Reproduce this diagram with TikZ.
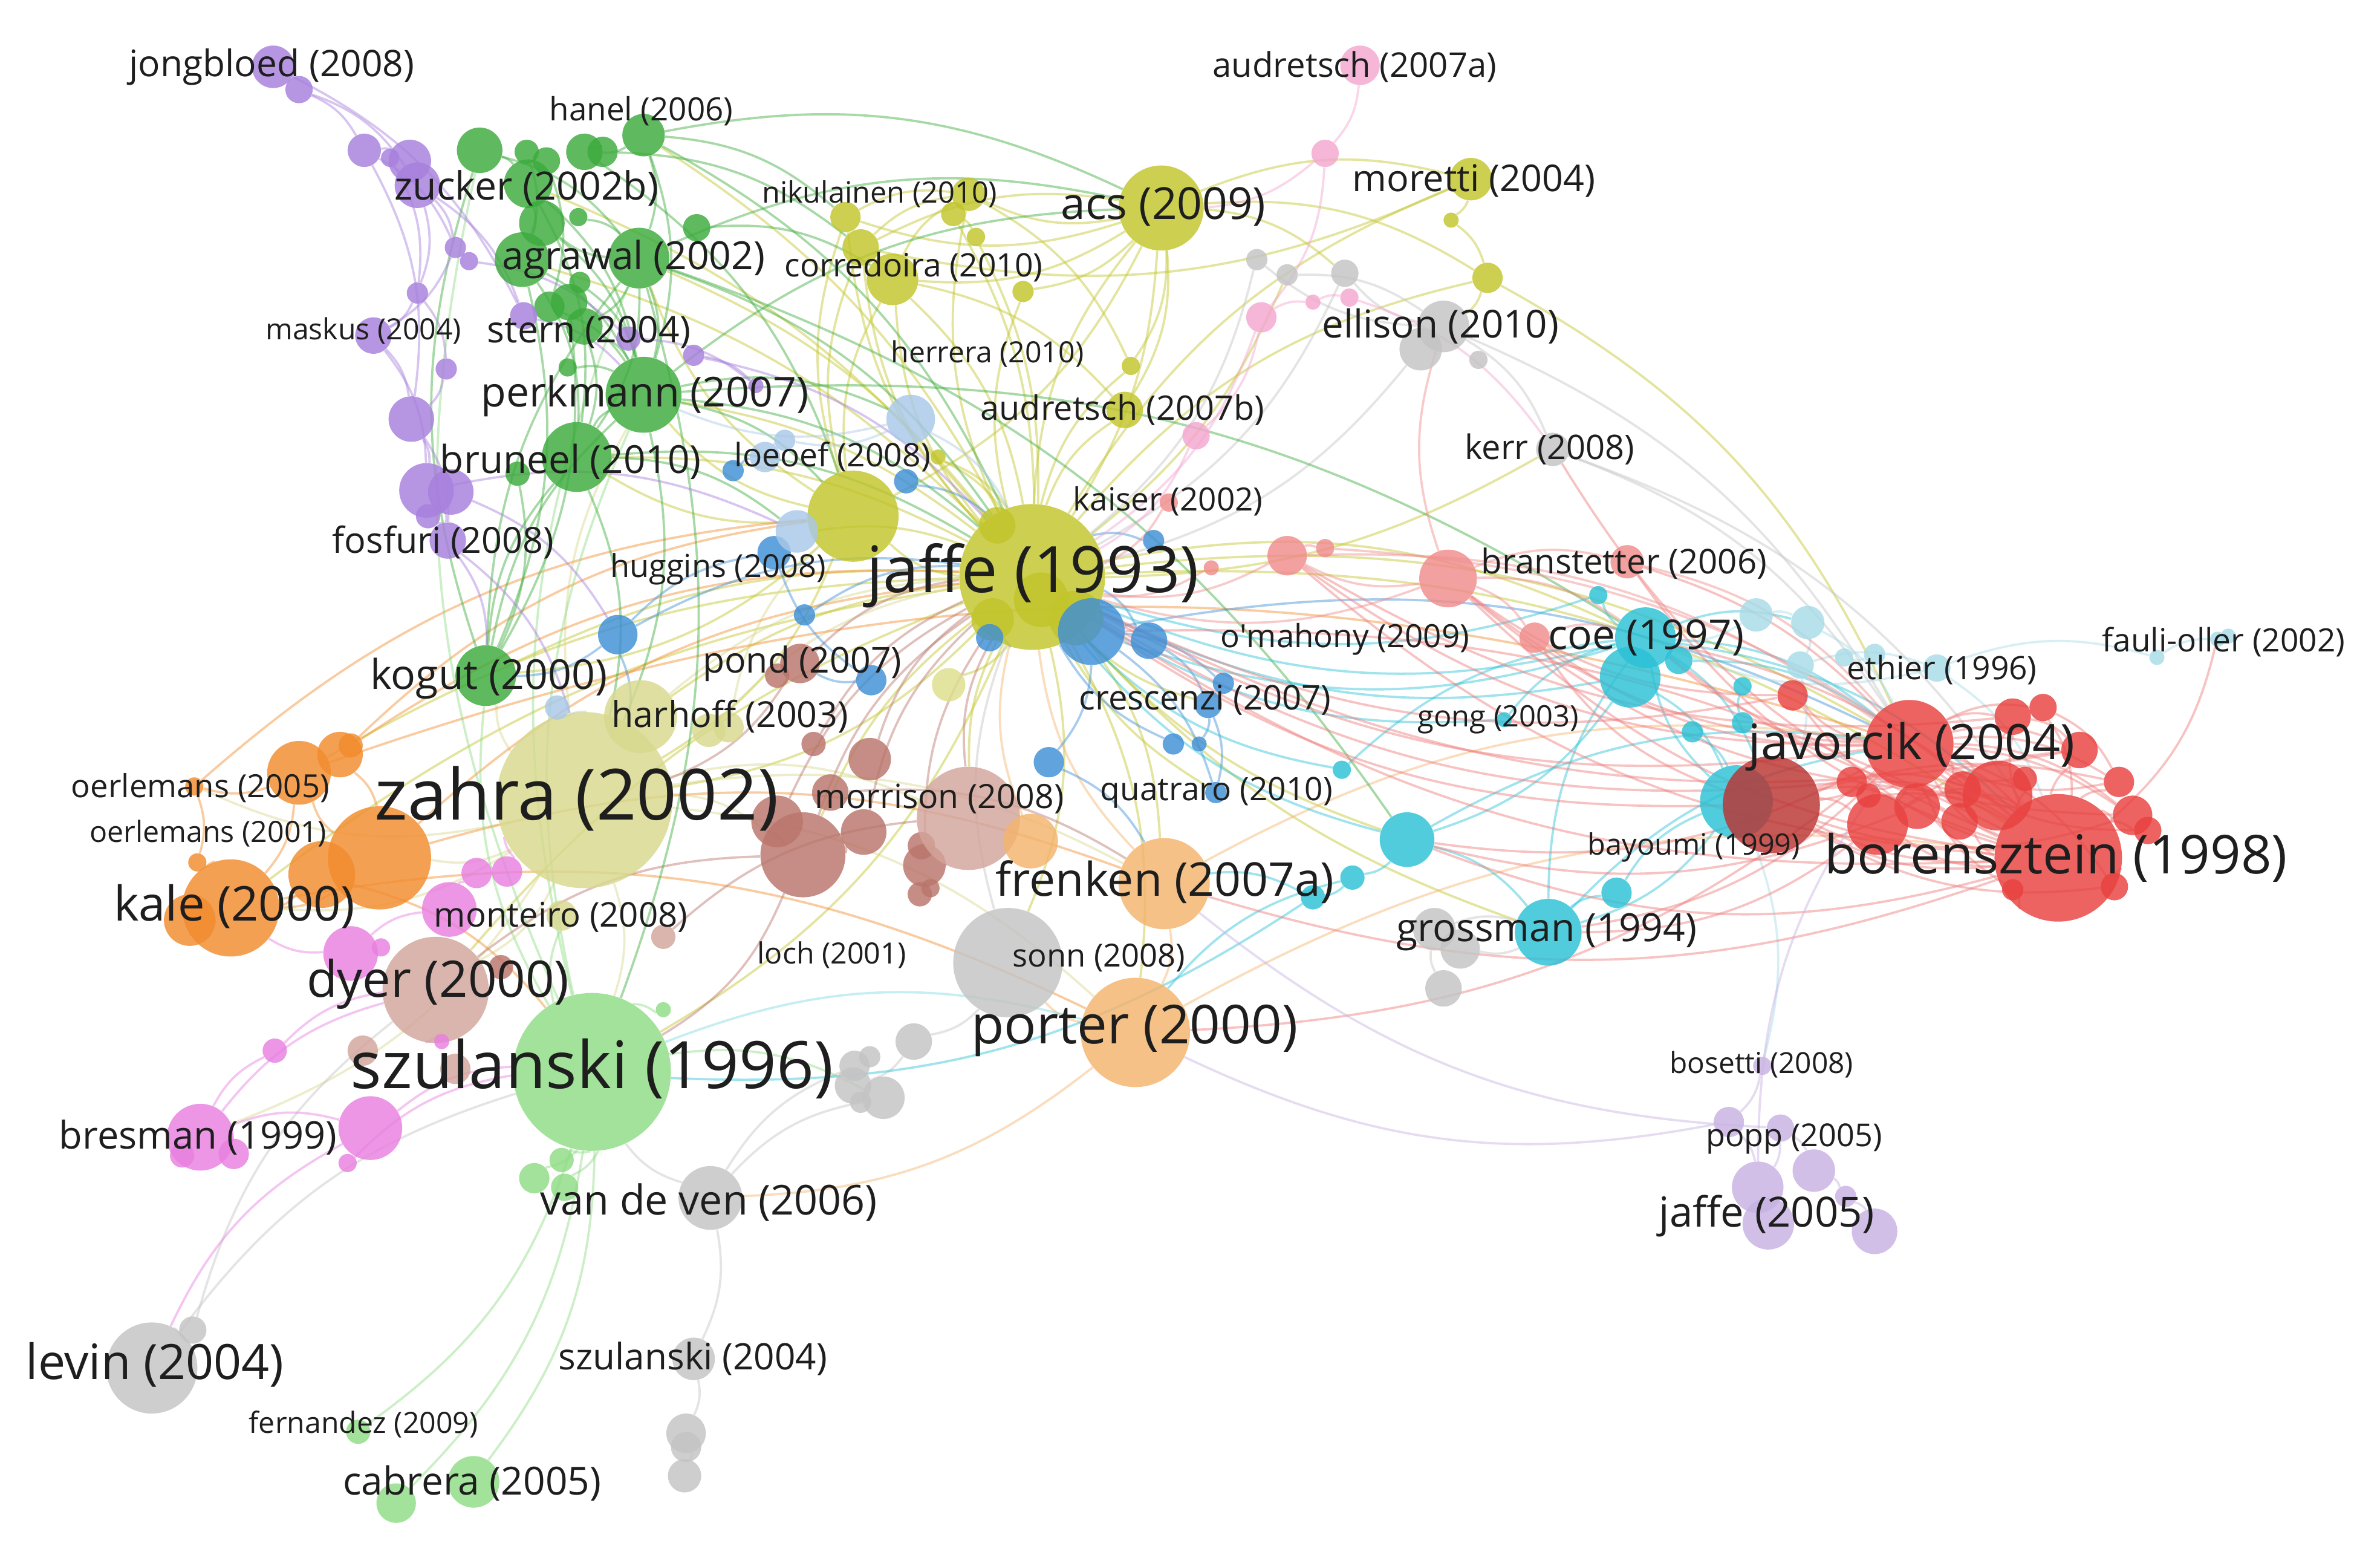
\documentclass[tikz,border=0pt]{standalone}
\usepackage{fontspec}
\setmainfont{Open Sans}
\usepackage{graphicx}
\pgfdeclarelayer{bg}\pgfdeclarelayer{fg}\pgfsetlayers{bg,main,fg}
\definecolor{cRed}{HTML}{E8413F}
\definecolor{cGreen}{HTML}{3CAB3C}
\definecolor{cBlue}{HTML}{3F8FD6}
\definecolor{cOlive}{HTML}{C2C52A}
\definecolor{cPurple}{HTML}{A780DC}
\definecolor{cCyan}{HTML}{2BC1D6}
\definecolor{cOrange}{HTML}{F28C2E}
\definecolor{cBrown}{HTML}{B9756B}
\definecolor{cMagenta}{HTML}{E87FE0}
\definecolor{cLgreen}{HTML}{8EDC84}
\definecolor{cKhaki}{HTML}{D8D98E}
\definecolor{cGray}{HTML}{C4C4C4}
\definecolor{cLblue}{HTML}{A9C8E8}
\definecolor{cPink}{HTML}{F3A6CF}
\definecolor{cLpurple}{HTML}{C7B2E2}
\definecolor{cLcyan}{HTML}{A8DCE8}
\definecolor{cSalmon}{HTML}{F08C8C}
\definecolor{cPeach}{HTML}{F4B46C}
\definecolor{cPbrown}{HTML}{D3A59C}
\definecolor{cText}{HTML}{1E1E1E}
\tikzset{
  nd/.style={circle,inner sep=0pt,draw=none,fill opacity=0.82},
  lbl/.style={inner sep=0pt,text=cText},
  e/.style={draw=#1,line width=1.5pt,draw opacity=0.45,bend left=18},
  er/.style={draw=#1,line width=1.5pt,draw opacity=0.45,bend right=14}
}
\newcommand\nd[5]{\node[nd,fill=#5,minimum size=#4*2pt] (#1) at (#2,#3) {};}
\newcommand\lab[5]{\node[lbl] (#1) at (#2,#3) {\resizebox{#4pt}{!}{#5}};}
\begin{document}
\begin{tikzpicture}[x=1pt,y=-1pt]
\begin{pgfonlayer}{bg}
\fill[white] (0,0) rectangle (1568,1020);
\end{pgfonlayer}
\useasboundingbox (0,0) rectangle (1568,1020);
% ---------- nodes ----------
% olive
\nd{J93}{680}{380}{48}{cOlive}
\nd{acs}{765}{137}{28}{cOlive}
\nd{Y1}{562}{340}{30}{cOlive}
\nd{Y2}{557}{143}{10}{cOlive}
\nd{Y3}{567}{163}{12}{cOlive}
\nd{Y4}{588}{184}{17}{cOlive}
\nd{Y5}{628}{141}{8}{cOlive}
\nd{Y6}{638}{128}{11}{cOlive}
\nd{Y7}{643}{156}{6}{cOlive}
\nd{Y8}{674}{192}{7}{cOlive}
\nd{Y9}{745}{241}{6}{cOlive}
\nd{Y10}{741}{270}{12}{cOlive}
\nd{Y11}{618}{301}{5}{cOlive}
\nd{mor}{969}{118}{14}{cOlive}
\nd{Y12}{956}{145}{5}{cOlive}
\nd{Y13}{980}{183}{10}{cOlive}
\nd{Y14}{625}{451}{11}{cOlive!55}
\nd{Y15}{657}{346}{12}{cOlive}
\nd{Y16}{686}{395}{18}{cOlive}
\nd{Y17}{709}{407}{18}{cOlive}
\nd{Y18}{654}{408}{14}{cOlive}
% khaki
\nd{zah}{385}{527}{58}{cKhaki}
\nd{har}{422}{472}{24}{cKhaki}
\nd{K1}{467}{481}{11}{cKhaki}
\nd{K2}{480}{479}{10}{cKhaki}
\nd{mon}{370}{603}{10}{cKhaki}
% green
\nd{G1}{316}{99}{15}{cGreen}
\nd{G2}{347}{100}{8}{cGreen}
\nd{G3}{360}{106}{9}{cGreen}
\nd{G4}{385}{100}{12}{cGreen}
\nd{G5}{348}{121}{16}{cGreen}
\nd{G6}{357}{147}{15}{cGreen}
\nd{G7}{381}{143}{6}{cGreen}
\nd{G8}{344}{171}{18}{cGreen}
\nd{G9}{382}{186}{7}{cGreen}
\nd{G10}{362}{202}{10}{cGreen}
\nd{G11}{375}{199}{12}{cGreen}
\nd{G12}{385}{215}{12}{cGreen}
\nd{G13}{374}{242}{6}{cGreen}
\nd{han}{424}{89}{14}{cGreen}
\nd{G14}{397}{100}{10}{cGreen}
\nd{agr}{421}{170}{20}{cGreen}
\nd{G15}{459}{150}{9}{cGreen}
\nd{per}{424}{260}{25}{cGreen}
\nd{bru}{380}{301}{23}{cGreen}
\nd{G16}{341}{312}{8}{cGreen}
\nd{kog}{320}{445}{20}{cGreen}
% purple
\nd{jon}{180}{44}{14}{cPurple}
\nd{P1}{197}{59}{9}{cPurple}
\nd{P2}{240}{99}{11}{cPurple}
\nd{P3}{270}{106}{14}{cPurple}
\nd{P4}{257}{104}{6}{cPurple}
\nd{P5}{275}{122}{15}{cPurple}
\nd{P6}{300}{163}{7}{cPurple}
\nd{P7}{309}{172}{6}{cPurple}
\nd{P8}{275}{193}{7}{cPurple}
\nd{mas}{246}{221}{12}{cPurple}
\nd{P9}{294}{243}{7}{cPurple}
\nd{P10}{271}{276}{15}{cPurple}
\nd{P11}{345}{208}{9}{cPurple}
\nd{P12}{281}{323}{18}{cPurple}
\nd{P13}{297}{324}{15}{cPurple}
\nd{fos}{295}{356}{12}{cPurple}
\nd{P14}{282}{340}{8}{cPurple}
\nd{P15}{457}{234}{7}{cPurple}
\nd{P16}{414}{223}{8}{cPurple}
\nd{P17}{498}{254}{5}{cPurple}
% blue
\nd{B1}{652}{420}{9}{cBlue}
\nd{B2}{719}{416}{22}{cBlue}
\nd{B3}{757}{422}{12}{cBlue}
\nd{B4}{574}{448}{10}{cBlue}
\nd{B5}{530}{405}{7}{cBlue}
\nd{B6}{407}{418}{13}{cBlue}
\nd{B7}{691}{502}{10}{cBlue}
\nd{B8}{773}{490}{7}{cBlue}
\nd{B9}{760}{356}{7}{cBlue}
\nd{B10}{597}{317}{8}{cBlue}
\nd{B11}{483}{310}{7}{cBlue}
\nd{hug}{510}{364}{11}{cBlue}
\nd{B12}{806}{450}{7}{cBlue}
\nd{B13}{796}{464}{9}{cBlue}
\nd{B14}{790}{490}{5}{cBlue}
\nd{qua}{801}{522}{7}{cBlue}
% light blue
\nd{LB1}{600}{276}{16}{cLblue}
\nd{LB2}{504}{301}{10}{cLblue}
\nd{LB3}{517}{290}{7}{cLblue}
\nd{LB4}{525}{350}{14}{cLblue}
\nd{LB5}{367}{466}{8}{cLblue}
% brown
\nd{pon}{527}{437}{13}{cBrown}
\nd{BR1}{512}{445}{8}{cBrown}
\nd{BR2}{536}{490}{8}{cBrown}
\nd{BR3}{573}{500}{14}{cBrown}
\nd{BR4}{547}{522}{12}{cBrown}
\nd{BR5}{512}{541}{17}{cBrown}
\nd{BR6}{529}{563}{28}{cBrown}
\nd{BR7}{569}{548}{15}{cBrown}
\nd{BR8}{609}{570}{14}{cBrown}
\nd{BR9}{607}{557}{9}{cBrown}
\nd{BR10}{606}{589}{8}{cBrown}
\nd{BR11}{613}{585}{6}{cBrown}
\nd{morr}{638}{539}{34}{cPbrown}
\nd{BR12}{437}{617}{8}{cPbrown}
\nd{dye}{287}{652}{35}{cPbrown}
\nd{BR13}{330}{637}{8}{cBrown}
\nd{BR14}{239}{692}{10}{cPbrown}
\nd{BR15}{300}{704}{10}{cPbrown}
% orange / peach
\nd{O1}{197}{509}{21}{cOrange}
\nd{O2}{224}{497}{15}{cOrange}
\nd{O3}{231}{491}{8}{cOrange}
\nd{O4}{128}{518}{6}{cOrange}
\nd{O5}{130}{568}{6}{cOrange}
\nd{O6}{250}{565}{34}{cOrange}
\nd{O7}{212}{576}{22}{cOrange}
\nd{kal}{152}{598}{32}{cOrange}
\nd{O8}{125}{606}{17}{cOrange}
\nd{fre}{767}{582}{30}{cPeach}
\nd{PE1}{679}{554}{18}{cPeach}
\nd{por}{748}{680}{36}{cPeach}
% magenta
\nd{M1}{314}{575}{10}{cMagenta}
\nd{M2}{334}{574}{10}{cMagenta}
\nd{M3}{296}{599}{18}{cMagenta}
\nd{M4}{231}{628}{18}{cMagenta}
\nd{M5}{251}{624}{6}{cMagenta}
\nd{bre}{132}{749}{22}{cMagenta}
\nd{M6}{120}{761}{8}{cMagenta}
\nd{M7}{154}{760}{10}{cMagenta}
\nd{M8}{244}{743}{21}{cMagenta}
\nd{M9}{229}{766}{6}{cMagenta}
\nd{M10}{181}{692}{8}{cMagenta}
\nd{M11}{291}{686}{5}{cMagenta}
% light green
\nd{szu}{390}{706}{52}{cLgreen}
\nd{LG1}{352}{776}{10}{cLgreen}
\nd{LG2}{370}{764}{8}{cLgreen}
\nd{LG3}{372}{782}{9}{cLgreen}
\nd{fer}{236}{943}{8}{cLgreen}
\nd{cab}{312}{976}{17}{cLgreen}
\nd{LG4}{261}{990}{13}{cLgreen}
\nd{LG5}{437}{665}{5}{cLgreen}
% gray
\nd{son}{664}{634}{36}{cGray}
\nd{GR1}{602}{686}{12}{cGray}
\nd{GR2}{563}{702}{10}{cGray}
\nd{GR3}{573}{696}{7}{cGray}
\nd{GR4}{562}{715}{12}{cGray}
\nd{GR5}{582}{723}{14}{cGray}
\nd{GR6}{567}{726}{7}{cGray}
\nd{vdv}{468}{789}{21}{cGray}
\nd{sz04}{457}{895}{14}{cGray}
\nd{GR7}{452}{944}{13}{cGray}
\nd{GR8}{452}{953}{10}{cGray}
\nd{GR9}{451}{972}{11}{cGray}
\nd{lev}{100}{901}{30}{cGray}
\nd{GR10}{127}{876}{9}{cGray}
\nd{ell}{951}{215}{17}{cGray}
\nd{GR11}{936}{230}{14}{cGray}
\nd{GR12}{974}{237}{6}{cGray}
\nd{GR13}{828}{171}{7}{cGray}
\nd{GR14}{848}{181}{7}{cGray}
\nd{GR15}{886}{180}{9}{cGray}
\nd{ker}{1023}{296}{11}{cGray}
\nd{GR16}{945}{612}{14}{cGray}
\nd{GR17}{962}{625}{13}{cGray}
\nd{GR18}{951}{651}{12}{cGray}
% cyan
\nd{coe}{1084}{420}{20}{cCyan}
\nd{C1}{1074}{446}{20}{cCyan}
\nd{C2}{1106}{435}{9}{cCyan}
\nd{C3}{1053}{392}{6}{cCyan}
\nd{C4}{1148}{452}{6}{cCyan}
\nd{C5}{1148}{476}{7}{cCyan}
\nd{C6}{1115}{482}{7}{cCyan}
\nd{C7}{1144}{528}{24}{cCyan}
\nd{C8}{927}{553}{18}{cCyan}
\nd{C9}{891}{578}{8}{cCyan}
\nd{C10}{865}{591}{8}{cCyan}
\nd{C11}{884}{507}{6}{cCyan}
\nd{gon}{991}{474}{5}{cCyan}
\nd{gro}{1020}{614}{22}{cCyan}
\nd{C12}{1065}{588}{10}{cCyan}
% light cyan
\nd{LC1}{1157}{405}{11}{cLcyan}
\nd{LC2}{1191}{410}{11}{cLcyan}
\nd{LC3}{1186}{438}{9}{cLcyan}
\nd{LC4}{1215}{433}{6}{cLcyan}
\nd{LC5}{1235}{431}{7}{cLcyan}
\nd{eth}{1276}{440}{9}{cLcyan}
\nd{LC6}{1421}{433}{5}{cLcyan}
\nd{fau}{1461}{421}{5}{cLcyan}
\nd{LC7}{1468}{419}{5}{cLcyan}
% red
\nd{jav}{1258}{490}{29}{cRed}
\nd{R0}{1167}{530}{32}{cRed!80!black}
\nd{bor}{1356}{565}{42}{cRed}
\nd{R1}{1181}{458}{10}{cRed}
\nd{R2}{1326}{472}{12}{cRed}
\nd{R3}{1346}{466}{9}{cRed}
\nd{R4}{1370}{494}{12}{cRed}
\nd{R5}{1396}{515}{10}{cRed}
\nd{R6}{1405}{537}{13}{cRed}
\nd{R7}{1415}{547}{9}{cRed}
\nd{R8}{1393}{584}{9}{cRed}
\nd{R9}{1326}{586}{7}{cRed}
\nd{R10}{1220}{515}{10}{cRed}
\nd{R11}{1231}{524}{8}{cRed}
\nd{R12}{1263}{531}{15}{cRed}
\nd{R13}{1237}{543}{20}{cRed}
\nd{R14}{1291}{541}{12}{cRed}
\nd{R15}{1316}{524}{23}{cRed}
\nd{R16}{1293}{520}{12}{cRed}
\nd{R17}{1334}{513}{8}{cRed}
% salmon
\nd{bra}{954}{381}{19}{cSalmon}
\nd{S1}{848}{366}{13}{cSalmon}
\nd{S2}{873}{361}{6}{cSalmon}
\nd{S3}{798}{374}{5}{cSalmon}
\nd{S4}{1011}{420}{10}{cSalmon}
\nd{S5}{1072}{370}{11}{cSalmon}
\nd{kai}{770}{331}{6}{cSalmon}
% pink
\nd{aud}{896}{43}{13}{cPink}
\nd{PK1}{873}{101}{9}{cPink}
\nd{PK2}{831}{209}{10}{cPink}
\nd{PK3}{865}{199}{5}{cPink}
\nd{PK4}{889}{196}{6}{cPink}
\nd{PK5}{788}{287}{9}{cPink}
% light purple
\nd{bos}{1161}{702}{6}{cLpurple}
\nd{LP1}{1139}{739}{10}{cLpurple}
\nd{LP2}{1173}{743}{9}{cLpurple}
\nd{LP3}{1195}{771}{14}{cLpurple}
\nd{LP4}{1216}{788}{7}{cLpurple}
\nd{LP5}{1235}{811}{15}{cLpurple}
\nd{ja05}{1158}{782}{17}{cLpurple}
\nd{LP6}{1165}{806}{17}{cLpurple}
% ---------- edges ----------
\begin{pgfonlayer}{bg}
\foreach \a/\b in {J93/acs,J93/Y1,J93/Y2,J93/Y3,J93/Y4,J93/Y6,J93/Y8,J93/Y10,J93/mor,J93/Y13,J93/Y14,J93/fre,J93/por,J93/son,J93/zah,J93/szu,J93/Y9,acs/Y6,acs/Y4,acs/mor,acs/Y2,acs/Y13,acs/Y10,acs/Y1,Y2/Y6,Y3/acs,Y1/Y4,Y1/agr,Y4/Y10,mor/Y12,Y12/Y13,mor/Y3,acs/GR15,Y5/Y7,Y11/J93,Y13/ell,J93/jav,J93/bor,J93/coe,Y1/kog,Y4/J93,Y6/Y9,Y1/Y3,Y1/Y2,Y4/Y6,Y3/Y6,acs/Y8,acs/Y9,Y13/jav,Y1/zah,Y1/bru,Y1/per}
  \draw[e=cOlive] (\a) to (\b);
\foreach \a/\b in {J93/G8,J93/G5,J93/Y5,J93/Y7,J93/B13,J93/qua,J93/har,J93/kog,J93/bru,J93/O1,J93/GR14,J93/ker,J93/C8,J93/gro,J93/LB4,J93/BR6,J93/acs,J93/morr,J93/per,J93/agr,J93/han,J93/kal,J93/dye,J93/Y11}
  \draw[er=cOlive] (\a) to (\b);
\foreach \a/\b in {zah/kal,zah/O6,zah/fre,zah/por,zah/szu,zah/dye,zah/kog,zah/har,zah/morr,zah/O4,zah/bre,har/J93,K1/J93,K2/Y1,zah/per,zah/BR6}
  \draw[e=cKhaki] (\a) to (\b);
\foreach \a/\b in {O6/O1,O6/kal,kal/O8,O1/O4,O4/O5,O5/kal,O6/J93,O4/Y1,O3/J93,O6/fre,kal/por,O1/jav,O2/Y1,O7/szu,O1/kal,O7/kal,O2/O6}
  \draw[e=cOrange] (\a) to (\b);
\foreach \a/\b in {fre/por,fre/jav,por/vdv,por/son,PE1/J93,fre/J93,por/bor}
  \draw[e=cPeach] (\a) to (\b);
\foreach \a/\b in {szu/fer,szu/cab,szu/LG4,szu/LG1,szu/kog,szu/per,szu/agr,szu/GR5,szu/mon,szu/LG5,szu/G1,szu/LG2,szu/LG3}
  \draw[e=cLgreen] (\a) to (\b);
\draw[e=cCyan!60] (szu) to (por);
\foreach \a/\b in {vdv/szu,vdv/sz04,sz04/GR7,GR7/GR9,vdv/GR2,vdv/GR5,lev/GR10,lev/szu,GR10/dye,son/GR1,ell/GR11,ell/GR15,ell/GR13,ell/ker,ker/jav,ker/bor,GR14/ell,GR16/gro,GR18/GR16,gro/GR17,GR13/J93,GR15/J93,GR1/GR4,son/J93,ell/jav,GR11/J93}
  \draw[e=cGray] (\a) to (\b);
\foreach \a/\b in {bre/M8,bre/M10,bre/dye,M8/szu,M4/M3,M3/M1,M1/M2,M10/dye,lev/M8,M9/szu,M2/zah,M11/dye,M4/kal}
  \draw[e=cMagenta] (\a) to (\b);
\foreach \a/\b in {pon/J93,BR6/BR5,BR6/J93,morr/J93,BR3/J93,BR8/J93,BR7/BR6,dye/BR6,morr/BR8,pon/zah,BR6/szu,BR12/morr,BR2/J93,BR4/fre,BR5/J93,BR7/J93}
  \draw[e=cBrown] (\a) to (\b);
\foreach \a/\b in {G1/agr,G5/per,agr/per,agr/bru,han/per,han/agr,G8/per,G8/bru,G6/per,G12/bru,kog/agr,kog/per,kog/bru,kog/G1,han/J93,agr/J93,per/J93,bru/J93,G4/Y1,G15/Y4,per/LB1,han/acs,G14/Y3,per/zah,bru/zah,agr/szu,G5/bru,agr/C8,per/coe,G2/G8,G3/G10,G11/kog,G13/per,G16/kog,G7/agr,G9/per,per/Y1,han/Y2,G1/G5,G5/G8,G6/G8,agr/G12,agr/G6,bru/per,han/G4,G4/G14,per/acs,agr/acs,bru/LB4,G10/per,G12/per,G8/kog}
  \draw[e=cGreen] (\a) to (\b);
\foreach \a/\b in {jon/P1,P1/P2,P2/P3,P1/P5,P2/P10,P5/P6,P6/mas,mas/P12,P8/P9,P9/P10,P10/P12,P12/fos,fos/kog,P11/per,P7/P16,P16/P17,P15/J93,P12/LB4,P13/B6,P5/P11,jon/P11,P4/P8,P14/fos,P3/P5,P5/P8,P8/mas,mas/P10,P10/fos,P2/P6,fos/zah,P15/P17}
  \draw[e=cPurple] (\a) to (\b);
\foreach \a/\b in {J93/B1,J93/B2,J93/B3,J93/B9,B2/B12,B12/B13,B13/qua,B13/B14,B2/B7,B4/hug,hug/LB4,B6/hug,B6/zah,B10/J93,B11/LB2,B6/kog,B4/pon,B2/jav,B7/fre,B5/J93,B8/J93,B2/qua,B3/B13,B6/J93}
  \draw[e=cBlue] (\a) to (\b);
\foreach \a/\b in {LB1/J93,LB1/per,LB2/LB3,LB1/LB3,LB4/Y1,LB5/zah}
  \draw[e=cLblue] (\a) to (\b);
\foreach \a/\b in {coe/C1,coe/C2,coe/C3,coe/jav,coe/bor,coe/R0,C1/C8,C8/C9,C9/C10,C10/szu,C8/gro,gro/C12,C12/C7,C7/coe,C11/coe,gon/coe,C1/J93,C5/C4,C6/C7,coe/B2,gro/jav,C8/jav,por/C9,fre/C10,gro/coe,coe/J93,C1/C7,C2/jav,coe/LC2,C3/J93,gon/J93,C11/J93,C8/J93,C7/gro}
  \draw[e=cCyan] (\a) to (\b);
\foreach \a/\b in {LC1/LC2,LC2/LC3,LC3/eth,eth/LC6,LC6/fau,fau/LC7,eth/coe,LC1/coe,LC2/jav,eth/bor,LC5/LC4,LC3/R0,C7/bos}
  \draw[e=cLcyan] (\a) to (\b);
\foreach \a/\b in {bor/jav,bor/R0,jav/R0,bor/R2,bor/R4,bor/R5,bor/R6,bor/R8,bor/R12,bor/R13,bor/R15,jav/R12,jav/R15,jav/R2,jav/R1,R0/R13,R10/bor,R11/bor,R14/jav,R16/bor,R17/jav,R7/jav,R3/bor,R9/jav,jav/coe,jav/bra,bor/bra,jav/S1,bor/J93,jav/J93,bor/C8,jav/gro,R0/S4,bor/fre,jav/por,R1/J93,R5/jav,R6/R0,R8/R0,fau/bor,jav/R3,jav/R4,jav/R5,jav/R6,jav/R8,jav/R10,jav/R11,jav/R13,jav/R16,bor/R1,bor/R7,bor/R9,bor/R14,bor/R17,R0/R12,R0/R15,R2/R4,R3/R5,R12/R15,R13/R15,R1/bra,R2/S1,jav/S4,bor/S5,R15/bra,R4/J93,R6/coe,R10/J93,R0/J93,bor/S1,jav/C8,R13/gro,R12/C8,bor/ker}
  \draw[e=cRed!70] (\a) to (\b);
\foreach \a/\b in {bor/jav,R0/bor,jav/R15,bor/R16,R2/R15,R4/R13,R6/jav,R5/R0,bor/coe,jav/S5,bor/B2}
  \draw[er=cRed!70] (\a) to (\b);
\foreach \a/\b in {bra/S1,bra/S4,bra/S5,S1/S2,S1/J93,S3/J93,bra/J93,S5/jav,S4/coe,kai/J93,bra/ell,S1/jav,S2/bor,bra/coe}
  \draw[e=cSalmon] (\a) to (\b);
\foreach \a/\b in {aud/PK1,PK1/acs,PK1/PK2,PK2/PK3,PK3/PK4,PK2/PK5,PK5/J93,PK2/J93,PK4/ker}
  \draw[e=cPink] (\a) to (\b);
\foreach \a/\b in {bos/LP1,LP1/ja05,LP2/LP3,LP3/LP4,LP4/LP5,ja05/LP6,LP2/ja05,LP1/por,LP2/fre,ja05/jav}
  \draw[e=cLpurple] (\a) to (\b);
\end{pgfonlayer}
% ---------- labels ----------
\begin{pgfonlayer}{fg}
\lab{l1}{179}{44}{188}{jongbloed (2008)}
\lab{l2}{422.5}{73}{121}{hanel (2006)}
\lab{l3}{347}{124}{174}{zucker (2002b)}
\lab{l4}{579.5}{128}{155}{nikulainen (2010)}
\lab{l5}{766.5}{136}{135}{acs (2009)}
\lab{l6}{892.5}{44}{187}{audretsch (2007a)}
\lab{l7}{971}{119}{160}{moretti (2004)}
\lab{l8}{417.5}{171}{173}{agrawal (2002)}
\lab{l9}{602}{176}{170}{corredoira (2010)}
\lab{l10}{239.5}{218}{129}{maskus (2004)}
\lab{l11}{388}{219}{134}{stern (2004)}
\lab{l12}{949}{215}{156}{ellison (2010)}
\lab{l13}{650.5}{233}{127}{herrera (2010)}
\lab{l14}{425}{261}{216}{perkmann (2007)}
\lab{l15}{739.5}{270}{187}{audretsch (2007b)}
\lab{l16}{1021}{296}{112}{kerr (2008)}
\lab{l17}{376}{304}{172}{bruneel (2010)}
\lab{l18}{548.5}{301}{129}{loeoef (2008)}
\lab{l19}{769.5}{330}{125}{kaiser (2002)}
\lab{l20}{292}{357}{146}{fosfuri (2008)}
\lab{l21}{473}{375}{142}{huggins (2008)}
\lab{l22}{680.5}{379}{219}{jaffe (1993)}
\lab{l23}{1070}{371}{188}{branstetter (2006)}
\lab{l24}{886}{421}{164}{o\textquotesingle mahony (2009)}
\lab{l25}{1084.5}{420}{129}{coe (1997)}
\lab{l26}{1465}{423}{160}{fauli-oller (2002)}
\lab{l27}{1279.5}{441}{125}{ethier (1996)}
\lab{l28}{322}{447}{156}{kogut (2000)}
\lab{l29}{528.5}{437}{131}{pond (2007)}
\lab{l30}{481}{472}{156}{harhoff (2003)}
\lab{l31}{794}{461}{166}{crescenzi (2007)}
\lab{l32}{987}{474}{106}{gong (2003)}
\lab{l33}{1259.5}{492}{215}{javorcik (2004)}
\lab{l34}{132}{519}{170}{oerlemans (2005)}
\lab{l35}{380}{526}{266}{zahra (2002)}
\lab{l36}{619}{526}{164}{morrison (2008)}
\lab{l37}{801.5}{522}{153}{quatraro (2010)}
\lab{l38}{137}{549}{156}{oerlemans (2001)}
\lab{l39}{1116}{558}{140}{bayoumi (1999)}
\lab{l40}{1354.5}{565}{305}{borensztein (1998)}
\lab{l41}{767.5}{581}{223}{frenken (2007a)}
\lab{l42}{154.5}{597}{159}{kale (2000)}
\lab{l43}{369.5}{604}{167}{monteiro (2008)}
\lab{l44}{1019}{614}{198}{grossman (1994)}
\lab{l45}{548}{629}{98}{loch (2001)}
\lab{l46}{724}{631}{114}{sonn (2008)}
\lab{l47}{288.5}{648}{173}{dyer (2000)}
\lab{l48}{747.5}{679}{215}{porter (2000)}
\lab{l49}{390}{704}{318}{szulanski (1996)}
\lab{l50}{1160.5}{701}{121}{bosetti (2008)}
\lab{l51}{130.5}{749}{183}{bresman (1999)}
\lab{l52}{1182}{750}{116}{popp (2005)}
\lab{l53}{467}{792}{222}{van de ven (2006)}
\lab{l54}{1164}{801}{142}{jaffe (2005)}
\lab{l55}{456.5}{895}{177}{szulanski (2004)}
\lab{l56}{102}{899}{170}{levin (2004)}
\lab{l57}{239.5}{938}{151}{fernandez (2009)}
\lab{l58}{311}{977}{170}{cabrera (2005)}
\end{pgfonlayer}
\end{tikzpicture}
\end{document}
